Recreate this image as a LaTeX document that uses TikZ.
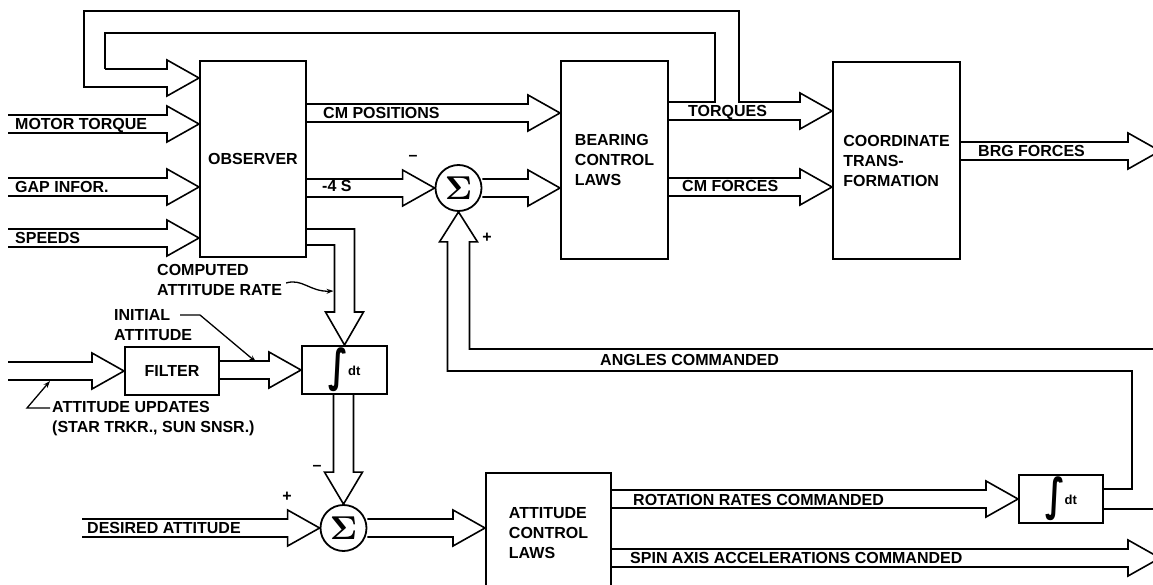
\documentclass[tikz,border=0pt]{standalone}
\usepackage{fontspec}
\usepackage{amsmath}
\usepackage{graphicx}
\setmainfont{Liberation Sans}
\newfontfamily\symfont{DejaVu Sans}
\usetikzlibrary{arrows.meta,positioning,calc}

\newcommand{\lab}{\fontsize{16}{20}\selectfont\bfseries}
\newcommand{\intdt}{{\symfont\bfseries\fontsize{28}{28}\selectfont\scalebox{1.15}[1.6]{∫}}\raisebox{6pt}{\fontsize{13}{13}\selectfont\bfseries dt}}
\newcommand{\sumsign}{\scalebox{3.3}{$\boldsymbol{\Sigma}$}}

\begin{document}
\begin{tikzpicture}[
  x=1pt,y=-1pt,
  block/.style={draw,line width=2pt,inner sep=0pt,align=left,font=\lab},
  sumnode/.style={circle,draw,line width=1.8pt,minimum size=46pt,inner sep=0pt,font=\normalsize},
  band/.style={line width=1.6pt,line join=miter},
  fatr/.style={band,to path={let \p1=(\tikztostart),\p2=(\tikztotarget) in
    (\x1,\y2+9pt) -- (\x2-32pt,\y2+9pt) -- (\x2-32pt,\y2+18pt) -- (\p2)
    -- (\x2-32pt,\y2-18pt) -- (\x2-32pt,\y2-9pt) -- (\x1,\y2-9pt)}},
  fatd/.style={band,to path={let \p1=(\tikztostart),\p2=(\tikztotarget) in
    (\x2-10pt,\y1) -- (\x2-10pt,\y2+32pt) -- (\x2-19pt,\y2+32pt) -- (\p2)
    -- (\x2+19pt,\y2+32pt) -- (\x2+10pt,\y2+32pt) -- (\x2+10pt,\y1)}},
  lbl/.style={font=\lab,inner sep=0pt,anchor=west,text height=11.5pt,text depth=0pt},
  note/.style={font=\lab,inner sep=0pt,anchor=west,align=left},
  sgn/.style={font=\lab,inner sep=0pt},
  lead/.style={line width=1.3pt,-{Stealth[length=7pt,width=5pt]}}
]
  \useasboundingbox (0,0) rectangle (1153,585);

  % blocks
  \node[block,minimum width=106pt,minimum height=196pt] (obs) at (253,159) {OBSERVER};
  \node[block,minimum width=107pt,minimum height=198pt] (bcl) at (614.5,160) {BEARING\\CONTROL\\LAWS};
  \node[block,minimum width=127pt,minimum height=197pt] (ct) at (896.5,160.5) {COORDINATE\\TRANS-\\FORMATION};
  \node[sumnode] (s1) at (458.5,188) {\sumsign};
  \node[block,minimum width=94pt,minimum height=48pt] (filt) at (172,371) {FILTER};
  \node[block,minimum width=85pt,minimum height=48pt] (int1) at (344.5,370) {\intdt};
  \node[sumnode] (s2) at (343.5,528) {\sumsign};
  \node[block,minimum width=125pt,minimum height=120pt] (acl) at (548.5,533) {ATTITUDE\\CONTROL\\LAWS};
  \node[block,minimum width=84pt,minimum height=48pt] (int2) at (1061,499) {\intdt};

  % free ends
  \coordinate (inA) at (8,124);
  \coordinate (inB) at (8,187);
  \coordinate (inC) at (8,238);
  \coordinate (inF) at (8,371);
  \coordinate (inD) at (82,527);
  \coordinate (outBRG) at (1160,151);
  \coordinate (outSA) at (1160,558);

  % inputs to the observer
  \draw[fatr] (inA) to (obs.west |- inA);
  \draw[fatr] (inB) to (obs.west |- inB);
  \draw[fatr] (inC) to (obs.west |- inC);

  % upper loop
  \draw[fatr] (obs.east |- 0,113) to (bcl.west |- 0,113);
  \draw[fatr] (obs.east |- 0,187) to (s1.west);
  \draw[fatr] (s1.east) to (bcl.west |- s1.east);
  \draw[fatr] (bcl.east |- 0,187) to (ct.west |- 0,187);
  \draw[fatr] (ct.east |- outBRG) to (outBRG);
  \draw[band] (bcl.east |- 0,102) -| (715,33) -| (105,69);
  \draw[band] (bcl.east |- 0,120) -- (800,120) -- (800,129) -- (ct.west |- 0,111)
    -- (800,93) -- (800,102) -| (739,11) -| (84,87) -- (105,87);
  \draw[fatr] (105,78) to (obs.west |- 0,78);

  % attitude path
  \draw[band] (obs.east |- 0,245) -| ($(int1.north)+(-10,-33)$) -- ++(-9,0) -- (int1.north)
    -- ++(19,-33) -- ++(-9,0) |- (obs.east |- 0,229);
  \draw[fatr] (inF) to (filt.west);
  \draw[fatr] (filt.east) to (int1.west);
  \draw[fatd] (int1.south) to (s2.north);
  \draw[fatr] (inD) to (s2.west);
  \draw[fatr] (s2.east) to (acl.west |- s2.east);
  \draw[fatr] (acl.east |- int2.west) to (int2.west);
  \draw[fatr] (acl.east |- outSA) to (outSA);

  % angles fed back
  \draw[band] (int2.east |- 0,489) -| (1132,371) -| ($(s1.south)+(-11,30)$) -- ++(-8,0) -- (s1.south)
    -- ++(19,30) -- ++(-8,0) |- (1160,349) -- (1160,509) -- (int2.east |- 0,509);

  % labels
  \node[lbl] (tMT) at (15,124) {MOTOR TORQUE};
  \node[lbl] (tGI) at (15,187) {GAP INFOR.};
  \node[lbl] (tSP) at (15,238) {SPEEDS};
  \node[lbl] (tCM) at (323,113) {CM POSITIONS};
  \node[lbl] (tDS) at (322,186) {-4 S};
  \node[lbl] (tTQ) at (688,111) {TORQUES};
  \node[lbl] (tCF) at (682,186) {CM FORCES};
  \node[lbl] (tBF) at (978,151) {BRG FORCES};
  \node[lbl] (tAC) at (600,360) {ANGLES COMMANDED};
  \node[lbl] (tDA) at (87,528) {DESIRED ATTITUDE};
  \node[lbl] (tRR) at (633,500) {ROTATION RATES COMMANDED};
  \node[lbl] (tSA) at (630,558) {SPIN AXIS ACCELERATIONS COMMANDED};
  \node[note] (cr) at (157,280) {COMPUTED\\ATTITUDE RATE};
  \node[note] (ini) at (114,325) {INITIAL\\ATTITUDE};
  \node[note] (upd) at (52,419) {ATTITUDE UPDATES\\(STAR TRKR., SUN SNSR.)};

  % signs
  \node[sgn] (m1) at (413,158) {--};
  \node[sgn] (p1) at (487,238) {+};
  \node[sgn] (m2) at (317,468) {--};
  \node[sgn] (p2) at (287,497) {+};

  % leaders
  \draw[lead] ($(cr.east)+(4,3)$) .. controls ($(cr.east)+(20,-2)$) and ($(cr.east)+(28,12)$) .. ($(int1.north)+(-11,-54)$);
  \draw[lead] ($(ini.west)+(66,-10)$) -- ++(20,0) -- ($(filt.east)+(36,-9)$);
  \draw[lead] ($(upd.west)+(-2,-11)$) -- ++(-23,0) -- ($(inF)+(42,10)$);
\end{tikzpicture}
\end{document}
